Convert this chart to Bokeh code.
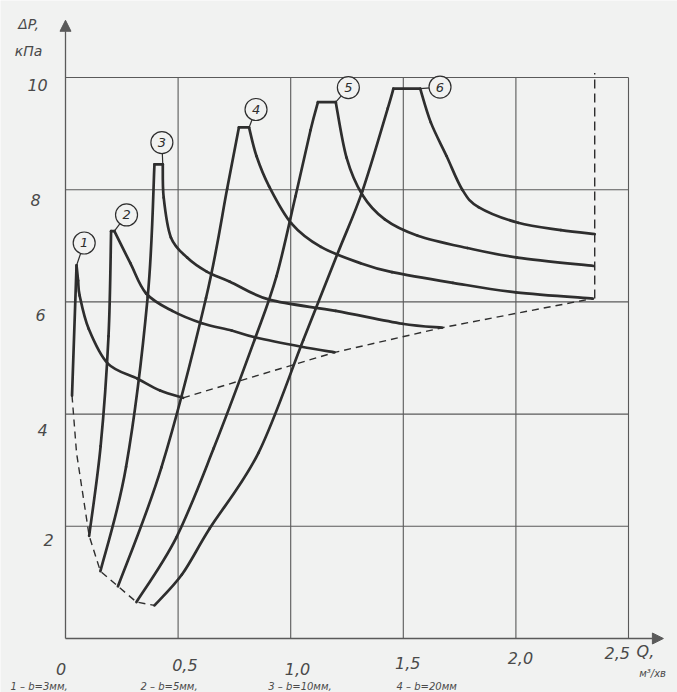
from bokeh.plotting import figure
from bokeh.models import Range1d, Arrow, NormalHead
from bokeh.core.properties import value
from bokeh.embed import file_html
from bokeh.resources import INLINE

# ---------------- data (Q, m3/min ; dP, kPa) ----------------
q1 = [0.029, 0.049, 0.056, 0.063, 0.103, 0.188, 0.320, 0.420, 0.522]
dp1 = [4.33, 6.65, 6.38, 6.11, 5.52, 4.90, 4.63, 4.42, 4.29]

q2 = [0.105, 0.156, 0.191, 0.2025, 0.217, 0.288, 0.358, 0.474, 0.606, 0.738, 0.841, 1.048, 1.195]
dp2 = [1.83, 3.43, 5.39, 7.26, 7.26, 6.69, 6.15, 5.84, 5.62, 5.49, 5.37, 5.20, 5.10]

q3 = [0.155, 0.269, 0.365, 0.395, 0.432, 0.436, 0.468, 0.540, 0.627, 0.730, 0.905, 1.20, 1.495, 1.672]
dp3 = [1.20, 3.06, 6.09, 8.45, 8.45, 7.86, 7.15, 6.79, 6.54, 6.36, 6.04, 5.84, 5.61, 5.54]

q4 = [0.233, 0.426, 0.624, 0.718, 0.770, 0.815, 0.848, 0.904, 1.003, 1.134, 1.310, 1.45, 1.72, 2.00, 2.342]
dp4 = [0.93, 3.05, 6.07, 8.02, 9.11, 9.11, 8.60, 8.06, 7.40, 6.98, 6.69, 6.53, 6.34, 6.17, 6.06]

q5 = [0.315, 0.492, 0.658, 0.841, 0.937, 1.021, 1.088, 1.121, 1.200, 1.248, 1.318, 1.418, 1.564, 1.785, 2.006, 2.346]
dp5 = [0.65, 1.80, 3.39, 5.34, 6.46, 7.88, 9.06, 9.56, 9.56, 8.57, 7.91, 7.47, 7.18, 6.96, 6.79, 6.64]

q6 = [0.395, 0.517, 0.640, 0.857, 1.056, 1.207, 1.318, 1.431, 1.456, 1.575, 1.622, 1.692, 1.762, 1.834, 2.01, 2.20, 2.35]
dp6 = [0.59, 1.14, 1.96, 3.31, 5.32, 6.85, 7.97, 9.45, 9.80, 9.80, 9.20, 8.60, 8.00, 7.69, 7.41, 7.28, 7.21]

# index of first and last point of each curve's peak (corners kept sharp)
peak_start = [1, 3, 3, 4, 7, 8]
peak_end = [1, 4, 4, 5, 8, 9]

# lower dashed envelope (curve feet)
q_low = [0.029, 0.049, 0.105, 0.155, 0.233, 0.315, 0.395]
dp_low = [4.33, 3.31, 1.83, 1.20, 0.93, 0.65, 0.59]

# upper dashed envelope (curve ends)
q_up = [0.522, 1.195, 1.672, 2.342]
dp_up = [4.29, 5.10, 5.54, 6.06]

# vertical dashed limit
q_lim = [2.35, 2.35]
dp_lim = [6.06, 10.08]

# circled curve numbers and the peak each points to
lab_text = ["1", "2", "3", "4", "5", "6"]
lab_q = [0.083, 0.271, 0.428, 0.846, 1.256, 1.663]
lab_dp = [7.05, 7.55, 8.84, 9.43, 9.82, 9.83]
peak_q = [0.049, 0.217, 0.432, 0.815, 1.200, 1.575]
peak_dp = [6.65, 7.26, 8.45, 9.11, 9.56, 9.80]

x_ticks = [0, 0.5, 1.0, 1.5, 2.0, 2.5]
x_tick_labels = ["0", "0,5", "1,0", "1,5", "2,0", "2,5"]
y_ticks = [2, 4, 6, 8, 10]
y_tick_labels = ["2", "4", "6", "8", "10"]
q_max, dp_max = 2.5, 10

# caption under the chart (at the page edge in the original)
caption = ["1 – b=3мм,", "2 – b=5мм,", "3 – b=10мм,", "4 – b=20мм"]

# ---------------- figure ----------------
W, H = 677, 692
X0, Y0 = 65, 638          # pixel position of (0,0) in the canvas
SX, SY = 225.2, 56.1      # pixels per unit
BG = "#f1f2f1"
INK = "#2e2e2e"
GRID = "#5a5a5a"
TXT = "#4a4a4a"

p = figure(width=W, height=H, output_backend="svg", toolbar_location=None,
           x_range=Range1d(-X0 / SX, (W - X0) / SX),
           y_range=Range1d(-(H - Y0) / SY, Y0 / SY),
           x_axis_location=None, y_axis_location=None, min_border=0)
p.grid.visible = False
p.outline_line_color = None
p.background_fill_color = BG
p.border_fill_color = BG

# grid
for xv in x_ticks[1:]:
    p.line([xv, xv], [0, dp_max], line_color=GRID, line_width=1.1)
for yv in y_ticks:
    p.line([0, q_max], [yv, yv], line_color=GRID, line_width=1.1)

# axes with arrows
p.add_layout(Arrow(x_start=0, y_start=0, x_end=0, y_end=11.02, line_color=GRID, line_width=1.3,
                   end=NormalHead(size=11, fill_color=GRID, line_color=GRID)))
p.add_layout(Arrow(x_start=0, y_start=0, x_end=2.655, y_end=0, line_color=GRID, line_width=1.3,
                   end=NormalHead(size=11, fill_color=GRID, line_color=GRID)))

# dashed envelopes
p.line(q_low, dp_low, line_color=INK, line_width=1.4, line_dash="7 5")
p.line(q_up, dp_up, line_color=INK, line_width=1.4, line_dash="7 5")
p.line(q_lim, dp_lim, line_color=INK, line_width=1.4, line_dash="9 5")


def smooth(xs, ys):
    """Draw a smooth (Catmull-Rom as cubic Bezier) curve through the given points."""
    n = len(xs)
    if n < 2:
        return
    if n == 2:
        p.line(xs, ys, line_color=INK, line_width=2.7, line_cap="round")
        return
    x0, y0, x1, y1, cx0, cy0, cx1, cy1 = [], [], [], [], [], [], [], []
    for i in range(n - 1):
        a = max(i - 1, 0)
        d = min(i + 2, n - 1)
        x0.append(xs[i]); y0.append(ys[i]); x1.append(xs[i + 1]); y1.append(ys[i + 1])
        cx0.append(xs[i] + (xs[i + 1] - xs[a]) / 6); cy0.append(ys[i] + (ys[i + 1] - ys[a]) / 6)
        cx1.append(xs[i + 1] - (xs[d] - xs[i]) / 6); cy1.append(ys[i + 1] - (ys[d] - ys[i]) / 6)
    p.bezier(x0=x0, y0=y0, x1=x1, y1=y1, cx0=cx0, cy0=cy0, cx1=cx1, cy1=cy1,
             line_color=INK, line_width=2.7, line_cap="round")


# curves: rising branch, flat top, falling branch
for (qs, ds), ps, pe in zip([(q1, dp1), (q2, dp2), (q3, dp3), (q4, dp4), (q5, dp5), (q6, dp6)],
                            peak_start, peak_end):
    smooth(qs[:ps + 1], ds[:ps + 1])
    if pe > ps:
        p.line(qs[ps:pe + 1], ds[ps:pe + 1], line_color=INK, line_width=2.7, line_cap="round")
    smooth(qs[pe:], ds[pe:])

# leaders and circled numbers
p.segment(x0=lab_q, y0=lab_dp, x1=peak_q, y1=peak_dp, line_color=INK, line_width=1.2)
p.scatter(lab_q, lab_dp, marker="circle", size=22, fill_color=BG, line_color=INK, line_width=1.2)
p.text(lab_q, lab_dp, text=lab_text, text_font=value("DejaVu Sans"), text_font_style="italic",
       text_font_size="13px", text_align="center", text_baseline="middle", text_color=INK)

# tick labels (hand placed as in the original drawing)
x_lab_q = [-0.02, 0.53, 1.03, 1.52, 2.02, 2.45]
x_lab_dp = [-0.535, -0.48, -0.535, -0.43, -0.34, -0.25]
p.text(x_lab_q, x_lab_dp, text=x_tick_labels, text_font=value("DejaVu Sans"),
       text_font_style="italic", text_font_size="16px", text_align="center",
       text_baseline="middle", text_color=TXT)
y_lab_q = [-0.075, -0.102, -0.111, -0.133, -0.124]
y_lab_dp = [1.75, 3.71, 5.76, 7.81, 9.86]
p.text(y_lab_q, y_lab_dp, text=y_tick_labels,
       text_font=value("DejaVu Sans"), text_font_style="italic", text_font_size="16px",
       text_align="center", text_baseline="middle", text_color=TXT)

# axis titles
p.text([-0.164, -0.164], [10.96, 10.48], text=["ΔP,", "кПа"], text_font=value("DejaVu Sans"),
       text_font_style="italic", text_font_size="14px", text_align="center",
       text_baseline="middle", text_color=TXT)
p.text([2.575], [-0.24], text=["Q,"], text_font=value("DejaVu Sans"), text_font_style="italic",
       text_font_size="16px", text_align="center", text_baseline="middle", text_color=TXT)
p.text([2.607], [-0.62], text=["м³/хв"], text_font=value("DejaVu Sans"), text_font_style="italic",
       text_font_size="10px", text_align="center", text_baseline="middle", text_color=TXT)

# caption row at the bottom edge (small so that it stays inside the page)
p.text([-0.244, 0.333, 0.90, 1.47], [-0.95] * 4, text=caption, text_font=value("DejaVu Sans"),
       text_font_style="italic", text_font_size="10px", text_align="left",
       text_baseline="bottom", text_color=TXT)

open("out.html", "w").write(file_html(p, INLINE))
